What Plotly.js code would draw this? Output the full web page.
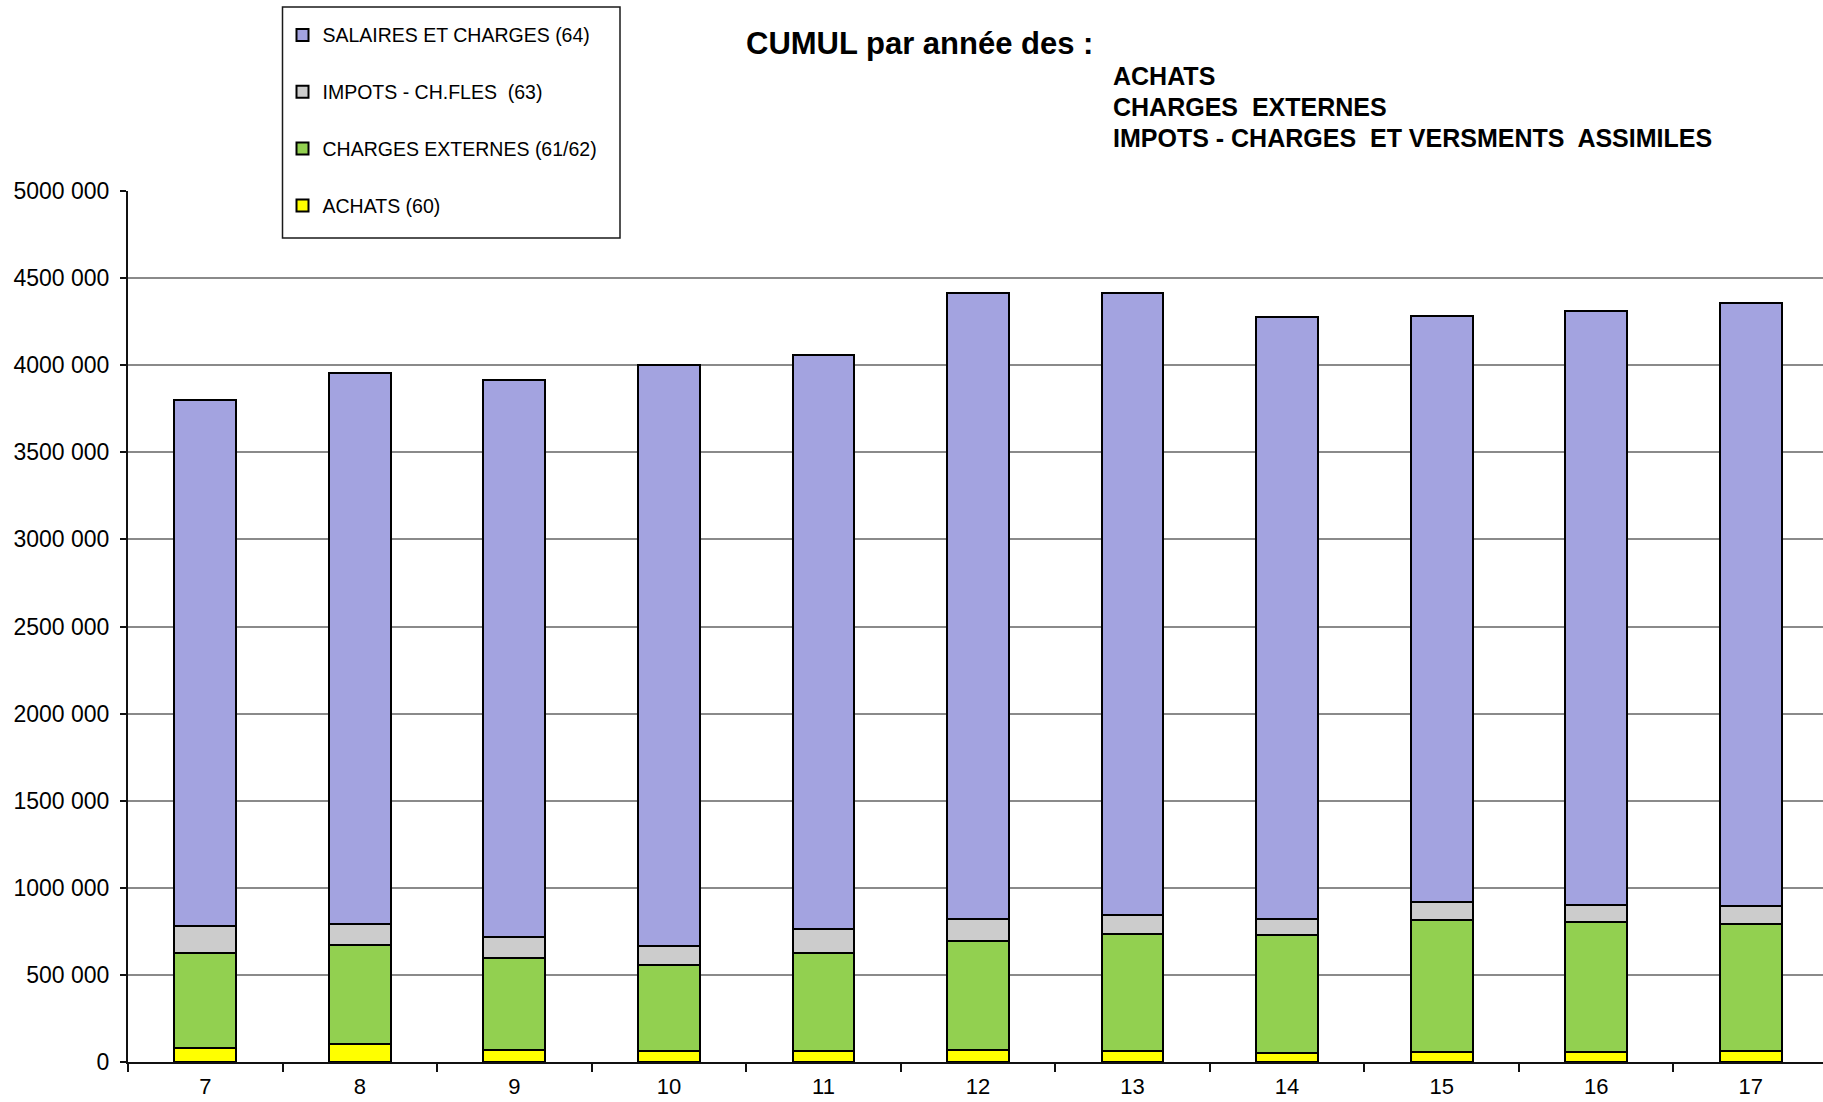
<!DOCTYPE html>
<html>
<head>
<meta charset="utf-8">
<script src="https://cdn.plot.ly/plotly-3.0.1.min.js"></script>
<style>
html, body { margin: 0; padding: 0; overflow: hidden; background: #fff; }
#chart { width: 1828px; height: 1102px; }
</style>
</head>
<body>
<div id="chart"></div>
<script>
const categories = ['7', '8', '9', '10', '11', '12', '13', '14', '15', '16', '17'];
const achats = [82000, 101000, 71000, 63000, 63000, 67000, 61000, 54000, 55000, 55000, 61000];
const chargesExternes = [543000, 570000, 527000, 495000, 562000, 627000, 675000, 676000, 761000, 750000, 734000];
const impots = [157000, 119000, 119000, 107000, 136000, 126000, 107000, 90000, 100000, 97000, 100000];
const salaires = [3021000, 3164000, 3197000, 3339000, 3295000, 3596000, 3573000, 3456000, 3366000, 3410000, 3463000];

const yTickVals = [0, 500000, 1000000, 1500000, 2000000, 2500000, 3000000, 3500000, 4000000, 4500000, 5000000];
const yTickText = ['0', '500 000', '1000 000', '1500 000', '2000 000', '2500 000', '3000 000', '3500 000', '4000 000', '4500 000', '5000 000'];

const seriesNames = ['ACHATS (60)', 'CHARGES EXTERNES (61/62)', 'IMPOTS - CH.FLES\u00a0 (63)', 'SALAIRES ET CHARGES (64)'];
const seriesValues = [achats, chargesExternes, impots, salaires];
const seriesColors = ['#FFFF00', '#92D050', '#CCCCCC', '#A3A3E0'];
const legendRanks = [4, 3, 2, 1];

const traces = seriesValues.map((vals, i) => ({
  type: 'bar',
  x: categories,
  y: vals,
  name: seriesNames[i],
  legendgroup: 'g' + i,
  legendrank: legendRanks[i],
  marker: { color: seriesColors[i], line: { color: '#000000', width: 2 } },
  hoverinfo: 'x+y+name'
}));

const FONT = 'Liberation Sans, Arial, sans-serif';
const PL = 128, PW = 1700, PB = 1062, PH = 871;
const px = v => (v - PL) / PW;
const py = v => (PB - v) / PH;

const layout = {
  width: 1828,
  height: 1102,
  margin: { l: 128, r: 0, t: 191, b: 40, pad: 0 },
  paper_bgcolor: '#ffffff',
  plot_bgcolor: '#ffffff',
  barmode: 'stack',
  bargap: 0.6,
  font: { family: FONT, color: '#000000' },
  title: {
    text: '<b>CUMUL par année des :</b>',
    font: { family: FONT, size: 31, color: '#000000' },
    xref: 'container', yref: 'container',
    x: 746 / 1828, xanchor: 'left',
    y: 1 - 43 / 1102, yanchor: 'middle'
  },
  annotations: [
    { text: '<b>ACHATS</b>', y: 75.6 },
    { text: '<b>CHARGES\u00a0 EXTERNES</b>', y: 107 },
    { text: '<b>IMPOTS - CHARGES\u00a0 ET VERSMENTS\u00a0 ASSIMILES</b>', y: 138 }
  ].map(a => ({
    text: a.text, xref: 'paper', yref: 'paper', x: px(1111), y: py(a.y),
    xanchor: 'left', yanchor: 'middle', showarrow: false,
    font: { family: FONT, size: 25, color: '#000000' }
  })),
  shapes: [{
    type: 'rect', xref: 'paper', yref: 'paper', layer: 'above',
    x0: px(282.5), x1: px(620), y0: py(238), y1: py(7),
    fillcolor: '#ffffff', line: { color: '#1a1a1a', width: 1.5 }
  }],
  xaxis: {
    type: 'category',
    showline: true, linecolor: '#111111', linewidth: 2,
    ticks: 'outside', tickson: 'boundaries', ticklen: 8, tickcolor: '#111111', tickwidth: 1.5,
    tickfont: { family: FONT, size: 22, color: '#000000' },
    ticklabelstandoff: 4,
    showgrid: false, zeroline: false, fixedrange: true
  },
  yaxis: {
    range: [0, 5000000],
    tickvals: yTickVals, ticktext: yTickText,
    showline: true, linecolor: '#111111', linewidth: 2,
    ticks: 'outside', ticklen: 6, tickcolor: '#111111', tickwidth: 1.5,
    tickfont: { family: FONT, size: 23, color: '#000000' },
    ticklabelstandoff: 6,
    showgrid: true, gridcolor: '#8a8a8a', gridwidth: 2,
    zeroline: false, fixedrange: true
  },
  showlegend: true,
  legend: {
    traceorder: 'grouped',
    tracegroupgap: 28.5,
    x: px(282.5), xanchor: 'left',
    y: py(7 + 8.7), yanchor: 'top',
    bgcolor: 'rgba(0,0,0,0)', borderwidth: 0,
    font: { family: FONT, size: 19.5, color: '#000000' },
    itemwidth: 30
  }
};

Plotly.newPlot('chart', traces, layout, { displayModeBar: false });
</script>
</body>
</html>
